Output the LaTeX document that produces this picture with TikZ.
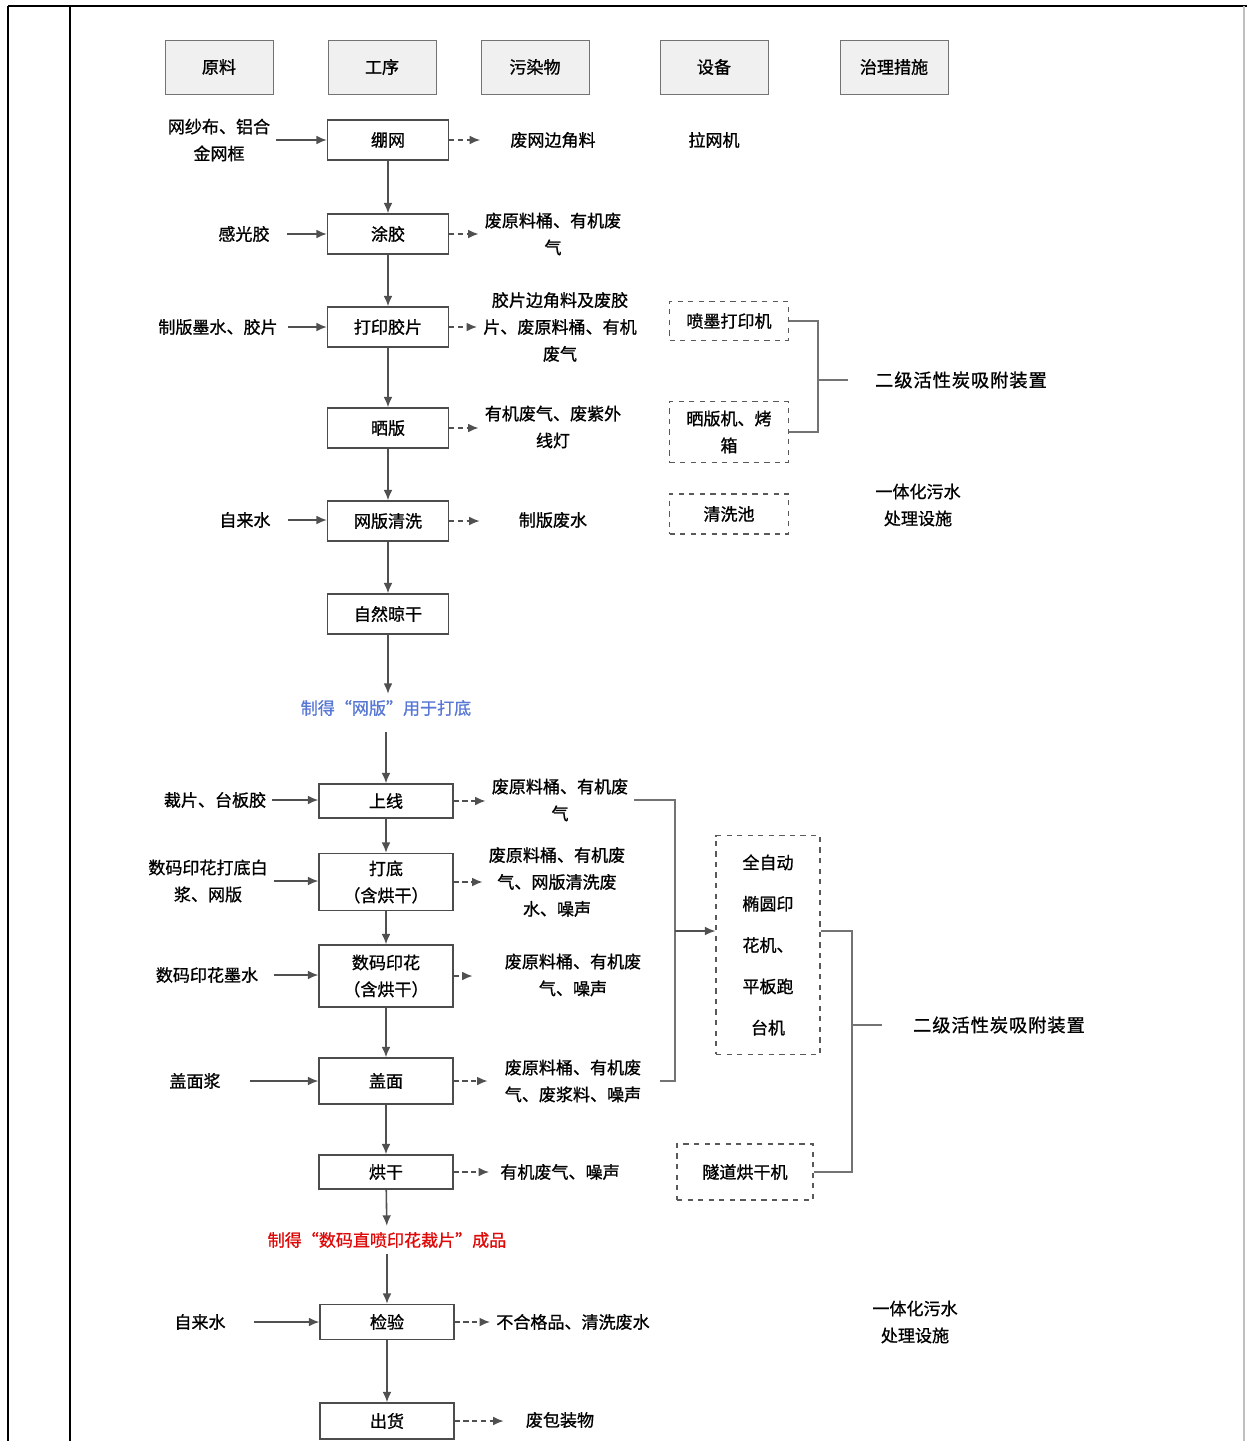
\documentclass[tikz,border=0pt]{standalone}
\usepackage{fontspec}
\setmainfont[FakeBold=1]{Noto Sans CJK SC}
\newfontfamily\widefont[FakeBold=1, LetterSpace=5]{Noto Sans CJK SC}
\usetikzlibrary{positioning, arrows.meta, calc, shadows}
\definecolor{lineg}{RGB}{80,80,80}
\definecolor{labblue}{RGB}{88,120,212}
\definecolor{labred}{RGB}{222,10,10}

\begin{document}
\begin{tikzpicture}[
    x=0.02cm, y=-0.02cm,
    font=\fontsize{9.7}{15.3}\selectfont,
    hdr/.style={rectangle, draw=black!55, fill=gray!12, minimum width=2.16cm, minimum height=1.08cm, drop shadow={shadow xshift=0.4pt, shadow yshift=-0.8pt, fill=black!70, opacity=0.8}},
    proc/.style={rectangle, draw=black!70, fill=white, line width=0.7pt, minimum width=2.42cm, minimum height=0.8cm, align=center},
    procw/.style={proc, minimum width=2.68cm},
    equip/.style={rectangle, draw=black!65, dashed, line width=0.6pt, minimum width=2.38cm, minimum height=0.78cm, align=center},
    txt/.style={align=center},
    arr/.style={-{Latex[length=6pt, width=5pt]}, line width=0.9pt, draw=lineg},
    darr/.style={arr, dash pattern=on 3pt off 2pt},
    brk/.style={line width=0.8pt, draw=black!55}
]
    \useasboundingbox (0,0) rectangle (1247,1441);

    % table frame
    \draw[line width=1.2pt] (8,6) -- (1247,6);
    \draw[line width=0.9pt] (8,6) -- (8,1441);
    \draw[line width=1.1pt] (70,6) -- (70,1441);
    \draw[gray!50, line width=0.8pt] (1244,6) -- (1244,1441);

    \node[hdr] (hraw) at (219,67) {原料};
    \node[hdr] (hstep) at (382,67) {工序};
    \node[hdr] (hpol) at (535,67) {污染物};
    \node[hdr] (hdev) at (714,67) {设备};
    \node[hdr] (htreat) at (894,67) {治理措施};

    % plate making
    \node[proc] (p1) at (388,140) {绷网};
    \node[proc] (p2) at (388,234) {涂胶};
    \node[proc] (p3) at (388,327) {打印胶片};
    \node[proc] (p4) at (388,428) {晒版};
    \node[proc] (p5) at (388,521) {网版清洗};
    \node[proc] (p6) at (388,614) {自然晾干};
    \node[text=labblue] (mesh) at (386,708) {制得“网版”用于打底};

    % printing
    \node[procw, minimum height=0.68cm] (p7) at (386,801) {上线};
    \node[procw, minimum height=1.14cm] (p8) at (386,882) {打底\\（含烘干）};
    \node[procw, minimum height=1.24cm] (p9) at (386,976) {数码印花\\（含烘干）};
    \node[procw, minimum height=0.92cm] (p10) at (386,1081) {盖面};
    \node[procw, minimum height=0.68cm] (p11) at (386,1172) {烘干};
    \node[text=labred] (prod) at (387,1240) {制得“数码直喷印花裁片”成品};
    \node[procw, minimum height=0.7cm] (p12) at (387,1322) {检验};
    \node[procw, minimum height=0.72cm] (p13) at (387,1421) {出货};

    \node[txt] (in1) at (219,140) {网纱布、铝合\\金网框};
    \node (in2) at (244,234) {感光胶};
    \node (in3) at (218,327) {制版墨水、胶片};
    \node (in4) at (245,520) {自来水};
    \node (in5) at (215,800) {裁片、台板胶};
    \node[txt] (in6) at (208,881) {数码印花打底白\\浆、网版};
    \node (in7) at (207,975) {数码印花墨水};
    \node (in8) at (195,1081) {盖面浆};
    \node (in9) at (200,1322) {自来水};

    \node (o1) at (553,140) {废网边角料};
    \node[txt] (o2) at (553,234) {废原料桶、有机废\\气};
    \node[txt] (o3) at (560,327) {胶片边角料及废胶\\片、废原料桶、有机\\废气};
    \node[txt] (o4) at (553,427) {有机废气、废紫外\\线灯};
    \node (o5) at (553,520) {制版废水};
    \node[txt] (o6) at (560,800) {废原料桶、有机废\\气};
    \node[txt] (o7) at (557,882) {废原料桶、有机废\\气、网版清洗废\\水、噪声};
    \node[txt] (o8) at (573,975) {废原料桶、有机废\\气、噪声};
    \node[txt] (o9) at (573,1081) {废原料桶、有机废\\气、废浆料、噪声};
    \node (o10) at (560,1172) {有机废气、噪声};
    \node (o11) at (573,1322) {不合格品、清洗废水};
    \node (o12) at (560,1420) {废包装物};

    \node (e0) at (714,140) {拉网机};
    \node[equip] (e1) at (729,321) {喷墨打印机};
    \node[equip, minimum height=1.22cm] (e2) at (729,432) {晒版机、烤\\箱};
    \node[equip, minimum height=0.8cm] (e3) at (729,514) {清洗池};
    \node[equip, minimum width=2.08cm, minimum height=4.38cm, font=\fontsize{9.7}{23.5}\selectfont] (e4) at (768,945) {全自动\\椭圆印\\花机、\\平板跑\\台机};
    \node[equip, minimum width=2.72cm, minimum height=1.12cm] (e5) at (745,1172) {隧道烘干机};

    \node[font=\widefont\fontsize{10.4}{15.3}\selectfont] (t1) at (961,380) {二级活性炭吸附装置};
    \node[txt] (t2) at (918,505) {一体化污水\\处理设施};
    \node[font=\widefont\fontsize{10.4}{15.3}\selectfont] (t3) at (999,1025) {二级活性炭吸附装置};
    \node[txt] (t4) at (915,1322) {一体化污水\\处理设施};

    % main flow
    \draw[arr] (p1) -- (p2);
    \draw[arr] (p2) -- (p3);
    \draw[arr] (p3) -- (p4);
    \draw[arr] (p4) -- (p5);
    \draw[arr] (p5) -- (p6);
    \draw[arr] (p6) -- (p6 |- mesh.north);
    \draw[arr, shorten <=0.2cm] (mesh) -- (p7);
    \draw[arr] (p7) -- (p8);
    \draw[arr] (p8) -- (p9);
    \draw[arr] (p9) -- (p10);
    \draw[arr] (p10) -- (p11);
    \draw[arr] (p11) -- (prod);
    \draw[arr] (prod) -- (p12);
    \draw[arr] (p12) -- (p13);

    % raw materials in
    \draw[arr] (in1.east) -- (p1.west);
    \draw[arr, shorten <=0.22cm] (in2.east) -- (p2.west);
    \draw[arr, shorten <=0.08cm] (in3.east) -- (p3.west);
    \draw[arr, shorten <=0.22cm] (in4.east) -- (in4.east -| p5.west);
    \draw[arr] (in5.east) -- (in5.east -| p7.west);
    \draw[arr] (in6.east) -- (in6.east -| p8.west);
    \draw[arr, shorten <=0.2cm] (in7.east) -- (in7.east -| p9.west);
    \draw[arr, shorten <=0.47cm] (in8.east) -- (p10.west);
    \draw[arr, shorten <=0.45cm] (in9.east) -- (p12.west);

    % pollutants out
    \draw[darr, shorten >=0.48cm] (p1.east) -- (p1.east -| o1.west);
    \draw[darr] (p2.east) -- (p2.east -| o2.west);
    \draw[darr] (p3.east) -- (p3.east -| o3.west);
    \draw[darr] (p4.east) -- (p4.east -| o4.west);
    \draw[darr, shorten >=0.66cm] (p5.east) -- (p5.east -| o5.west);
    \draw[darr] (p7.east) -- (p7.east -| o6.west);
    \draw[darr] (p8.east) -- (p8.east -| o7.west);
    \draw[darr, shorten >=0.52cm] (p9.east) -- (p9.east -| o8.west);
    \draw[darr, shorten >=0.22cm] (p10.east) -- (p10.east -| o9.west);
    \draw[darr, shorten >=0.1cm] (p11.east) -- (p11.east -| o10.west);
    \draw[darr] (p12.east) -- (p12.east -| o11.west);
    \draw[darr, shorten >=0.32cm] (p13.east) -- (p13.east -| o12.west);

    % treatment
    \coordinate (j1) at (818,380);
    \draw[brk] (e1.east) -| (j1) |- (e2.east);
    \draw[brk, shorten >=0.42cm] (j1) -- (t1.west);

    \coordinate (j2) at (675,931);
    \draw[brk, shorten >=0.26cm] (o6.east) -| (j2) |- (o9.east);
    \draw[arr] (j2) -- (j2 -| e4.west);

    \coordinate (j3) at (852,1025);
    \draw[brk] (e4.east |- j2) -| (j3) |- (e5.east);
    \draw[brk, shorten >=0.5cm] (j3) -- (t3.west);
\end{tikzpicture}
\end{document}
